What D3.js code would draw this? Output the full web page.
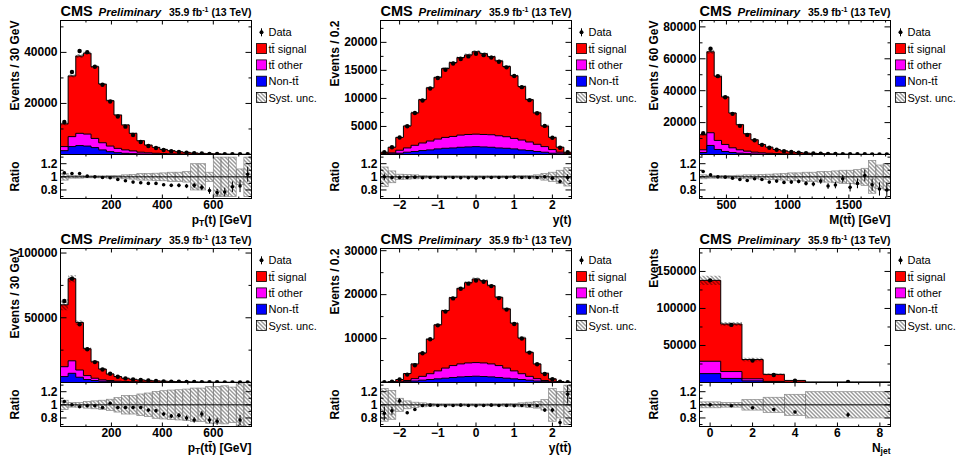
<!DOCTYPE html>
<html>
<head>
<meta charset="utf-8">
<script src="https://cdn.jsdelivr.net/npm/d3@7"></script>
<style>
  body { margin: 0; background: #fff; }
  svg { display: block; }
</style>
</head>
<body>
<div id="chart"></div>
<script>
// ---- data (events per bin, stacked components) ----
const ptT_edges = d3.range(0, 751, 30);
const ptT_sig = [8900, 23800, 30300, 31700, 28100, 23000, 17800, 13100, 9800, 6900, 4500, 3050, 2320, 1650, 1240, 910, 700, 500, 370, 270, 205, 148, 106, 82, 66];
const ptT_oth = [1600, 3900, 4800, 4700, 3600, 2800, 2200, 1700, 1340, 1070, 680, 490, 360, 260, 195, 140, 112, 72, 59, 44, 33, 23, 17, 13, 10];
const ptT_bkg = [1500, 3100, 3500, 3300, 2700, 1800, 1100, 700, 460, 330, 220, 160, 120, 90, 65, 50, 38, 28, 21, 16, 12, 9, 7, 5, 4];
const ptT_ratio = [1.06, 1.05, 1.05, 1.01, 1.0, 0.99, 0.985, 0.96, 0.94, 0.92, 0.91, 0.9, 0.9, 0.88, 0.87, 0.87, 0.86, 0.87, 0.84, 0.79, 0.76, 0.77, 0.85, 0.86, 1.04];
const ptT_unc = [0.05, 0.02, 0.02, 0.015, 0.015, 0.015, 0.02, 0.02, 0.03, 0.035, 0.05, 0.05, 0.055, 0.06, 0.07, 0.07, 0.08, 0.2, 0.2, 0.07, 0.3, 0.3, 0.3, 0.12, 0.3];

const yT_edges = d3.range(-25, 26, 2).map(d => d / 10);
const yT_sig = [300, 1010, 2290, 3930, 5800, 7740, 9500, 11020, 12300, 13180, 13830, 14190, 14710, 14420, 13940, 13360, 12530, 11190, 9550, 7560, 5620, 3690, 2170, 890, 300];
const yT_oth = [40, 170, 530, 760, 1110, 1350, 1580, 1750, 1940, 2050, 2170, 2220, 2230, 2220, 2230, 2170, 2060, 1870, 1760, 1530, 1290, 1000, 650, 290, 40];
const yT_bkg = [60, 120, 230, 410, 530, 700, 820, 1000, 1110, 1170, 1290, 1350, 1400, 1350, 1290, 1170, 1110, 1000, 820, 700, 530, 410, 230, 120, 60];
const yT_ratio = [1.0, 0.99, 0.99, 0.99, 0.995, 0.985, 0.99, 0.99, 0.985, 0.99, 0.985, 0.985, 0.98, 0.985, 0.99, 0.99, 0.99, 0.995, 0.99, 0.99, 0.99, 1.0, 0.98, 0.93, 0.99];
const yT_unc = [0.15, 0.09, 0.04, 0.035, 0.03, 0.02, 0.015, 0.015, 0.015, 0.015, 0.015, 0.015, 0.015, 0.015, 0.015, 0.015, 0.015, 0.015, 0.02, 0.02, 0.03, 0.05, 0.07, 0.1, 0.14];

const mtt_edges = d3.range(280, 1841, 60);
const mtt_sig = [9460, 50760, 40280, 29800, 21800, 15760, 10900, 7770, 5250, 3860, 2620, 1920, 1390, 1040, 780, 605, 460, 362, 288, 222, 172, 135, 107, 82, 66, 49];
const mtt_oth = [1680, 7970, 5670, 4410, 2940, 2100, 1575, 1090, 780, 560, 390, 285, 210, 160, 120, 95, 73, 57, 45, 35, 28, 22, 17, 13, 10, 8];
const mtt_bkg = [1260, 5670, 3150, 1890, 1260, 840, 525, 380, 270, 200, 140, 105, 80, 60, 45, 35, 27, 21, 17, 13, 10, 8, 6, 5, 4, 3];
const mtt_ratio = [1.08, 1.03, 1.0, 0.995, 0.98, 0.96, 0.945, 0.97, 0.96, 0.92, 0.935, 0.915, 0.92, 0.93, 0.9, 0.89, 0.935, 0.86, 0.875, 0.97, 0.84, 0.9, 1.02, 0.88, 0.815, 0.8];
const mtt_unc = [0.03, 0.02, 0.02, 0.02, 0.02, 0.025, 0.03, 0.03, 0.035, 0.04, 0.045, 0.05, 0.06, 0.06, 0.07, 0.07, 0.08, 0.08, 0.09, 0.1, 0.1, 0.11, 0.13, 0.25, 0.18, 0.2];

const ptTT_edges = d3.range(0, 751, 30);
const ptTT_sig = [47800, 63450, 36760, 20770, 12700, 8370, 5100, 3600, 2580, 1960, 1580, 1310, 1030, 830, 670, 555, 445, 355, 292, 237, 198, 158, 126, 102, 87];
const ptTT_oth = [7630, 9650, 5580, 3050, 1780, 1030, 800, 520, 380, 280, 220, 180, 140, 115, 95, 75, 59, 50, 41, 33, 27, 22, 18, 15, 12];
const ptTT_bkg = [4570, 7100, 4060, 2280, 1520, 1000, 700, 480, 340, 260, 200, 160, 130, 105, 85, 70, 56, 45, 37, 30, 25, 20, 16, 13, 11];
const ptTT_ratio = [1.05, 1.0, 0.97, 0.985, 0.985, 0.96, 1.025, 0.96, 0.96, 0.96, 0.96, 0.92, 0.91, 0.86, 0.83, 0.84, 0.8, 0.77, 0.86, 0.77, 0.75, 0.62, 0.6, 0.77, 0.62];
const ptTT_unc = [0.07, 0.035, 0.035, 0.05, 0.06, 0.07, 0.085, 0.11, 0.14, 0.14, 0.165, 0.18, 0.205, 0.215, 0.225, 0.23, 0.24, 0.255, 0.255, 0.28, 0.28, 0.29, 0.27, 0.32, 0.34];

const yTT_edges = d3.range(-25, 26, 2).map(d => d / 10);
const yTT_sig = [60, 170, 530, 1590, 3360, 5320, 7890, 10500, 13100, 15480, 17210, 18280, 19030, 18730, 17820, 15550, 13480, 10870, 8130, 5470, 3360, 1660, 680, 170, 40];
const yTT_oth = [10, 35, 75, 260, 530, 870, 1320, 1810, 2300, 2720, 2950, 3090, 3100, 3090, 2950, 2720, 2300, 1810, 1320, 870, 530, 260, 75, 35, 10];
const yTT_bkg = [10, 25, 75, 190, 340, 530, 680, 830, 980, 1130, 1280, 1360, 1430, 1360, 1280, 1130, 980, 830, 680, 530, 340, 190, 75, 25, 10];
const yTT_ratio = [0.87, 0.91, 1.06, 0.88, 0.93, 0.99, 0.995, 0.99, 0.985, 0.99, 0.995, 0.99, 0.985, 0.99, 0.995, 0.99, 0.99, 0.985, 0.99, 0.99, 0.985, 0.92, 0.92, 0.73, 1.16];
const yTT_unc = [0.25, 0.22, 0.1, 0.06, 0.04, 0.03, 0.02, 0.015, 0.015, 0.015, 0.015, 0.015, 0.015, 0.015, 0.015, 0.015, 0.02, 0.02, 0.03, 0.04, 0.05, 0.08, 0.25, 0.2, 0.3];

const njet_edges = [-0.5, 0.5, 1.5, 2.5, 3.5, 4.5, 8.5];
const njet_sig = [109300, 64200, 26000, 9500, 2400, 600];
const njet_oth = [16700, 9300, 2800, 800, 250, 60];
const njet_bkg = [12000, 5500, 2200, 700, 150, 40];
const njet_ratio = [1.0, 0.985, 0.955, 0.93, 0.89, 0.85];
const njet_unc = [0.045, 0.035, 0.08, 0.115, 0.16, 0.2];

const TT = "tt\u0304";
const legendLabels = ["Data", TT + " signal", TT + " other", "Non-" + TT, "Syst. unc."];
const colors = { sig: "#ff0000", oth: "#ff00ff", bkg: "#0000ff" };

const panels = [
  { edges: ptT_edges, sig: ptT_sig, oth: ptT_oth, bkg: ptT_bkg, ratio: ptT_ratio, unc: ptT_unc,
    ymax: 52500, yStep: 20000, xStep: 200, xMinor: 100, ytitle: "Events / 30 GeV",
    xtitle: [["p"], ["T", "sub"], ["(t) [GeV]"]] },
  { edges: yT_edges, sig: yT_sig, oth: yT_oth, bkg: yT_bkg, ratio: yT_ratio, unc: yT_unc,
    ymax: 23900, yStep: 5000, xStep: 1, xMinor: 0.5, ytitle: "Events / 0.2",
    xtitle: [["y(t)"]] },
  { edges: mtt_edges, sig: mtt_sig, oth: mtt_oth, bkg: mtt_bkg, ratio: mtt_ratio, unc: mtt_unc,
    ymax: 84000, yStep: 20000, xStep: 500, xMinor: 100, ytitle: "Events / 60 GeV",
    xtitle: [["M(" + TT + ") [GeV]"]] },
  { edges: ptTT_edges, sig: ptTT_sig, oth: ptTT_oth, bkg: ptTT_bkg, ratio: ptTT_ratio, unc: ptTT_unc,
    ymax: 103500, yStep: 50000, xStep: 200, xMinor: 100, ytitle: "Events / 30 GeV",
    xtitle: [["p"], ["T", "sub"], ["(" + TT + ") [GeV]"]] },
  { edges: yTT_edges, sig: yTT_sig, oth: yTT_oth, bkg: yTT_bkg, ratio: yTT_ratio, unc: yTT_unc,
    ymax: 30500, yStep: 10000, xStep: 1, xMinor: 0.5, ytitle: "Events / 0.2",
    xtitle: [["y(" + TT + ")"]] },
  { edges: njet_edges, sig: njet_sig, oth: njet_oth, bkg: njet_bkg, ratio: njet_ratio, unc: njet_unc,
    ymax: 181000, yStep: 50000, xStep: 2, xMinor: 1, ytitle: "Events",
    xtitle: [["N"], ["jet", "sub"]] }
];

const FONT = "'Liberation Sans', Arial, Helvetica, sans-serif";
const width = 957, height = 456;
const colLeft = [60.5, 380.5, 699.5];
const w = 191, hTop = 134, hRat = 44;
const rmin = 0.67, rmax = 1.34;

const svg = d3.select("#chart").append("svg")
  .attr("width", width)
  .attr("height", height)
  .attr("font-family", FONT);

svg.append("defs").append("pattern")
  .attr("id", "hatch")
  .attr("patternUnits", "userSpaceOnUse")
  .attr("width", 4).attr("height", 4)
  .append("path")
  .attr("d", "M-1,-1L5,5M3,-1L5,1M-1,3L1,5")
  .attr("stroke", "#000")
  .attr("stroke-width", 0.8);

function tickVals(dom, step) {
  const lo = Math.ceil(dom[0] / step - 1e-9), hi = Math.floor(dom[1] / step + 1e-9);
  return d3.range(lo, hi + 1).map(k => +(k * step).toFixed(6))
    .filter(v => v > dom[0] + 1e-9 && v < dom[1] - 1e-9);
}

function drawPanel(p, idx) {
  const col = idx % 3, row = Math.floor(idx / 3);
  const g = svg.append("g").attr("transform", `translate(${colLeft[col]},${20.5 + row * 228})`);
  const nb = p.sig.length;
  const xdom = [p.edges[0], p.edges[nb]];

  const x = d3.scaleLinear().domain(xdom).range([0, w]);
  const y = d3.scaleLinear().domain([0, p.ymax]).range([hTop, 0]);
  const yr = d3.scaleLinear().domain([rmin, rmax]).range([hTop + hRat, hTop]);

  const bins = p.sig.map((s, i) => {
    const bkg = p.bkg[i], oth = bkg + p.oth[i], tot = oth + s;
    const data = tot * p.ratio[i];
    return { x0: p.edges[i], x1: p.edges[i + 1], xc: (p.edges[i] + p.edges[i + 1]) / 2,
      bkg, oth, tot, data, ratio: p.ratio[i], unc: p.unc[i], err: Math.sqrt(data) };
  });

  // clip paths
  const cid = "clip" + idx;
  const defs = g.append("defs");
  defs.append("clipPath").attr("id", cid + "a").append("rect")
    .attr("width", w).attr("height", hTop);
  defs.append("clipPath").attr("id", cid + "b").append("rect")
    .attr("y", hTop).attr("width", w).attr("height", hRat);

  // ---- upper: stacked histogram ----
  const up = g.append("g").attr("clip-path", `url(#${cid}a)`);
  const area = d3.area().curve(d3.curveStepAfter)
    .x(d => x(d[0])).y0(y(0)).y1(d => y(d[1]));
  const pts = key => bins.map(b => [b.x0, b[key]]).concat([[bins[nb - 1].x1, bins[nb - 1][key]]]);

  [["tot", colors.sig], ["oth", colors.oth], ["bkg", colors.bkg]].forEach(([k, c]) => {
    up.append("path")
      .attr("d", area(pts(k)))
      .attr("fill", c)
      .attr("stroke", "#000")
      .attr("stroke-width", 1);
  });

  up.append("g").selectAll("rect")
    .data(bins)
    .join("rect")
    .attr("x", d => x(d.x0))
    .attr("width", d => x(d.x1) - x(d.x0))
    .attr("y", d => y(d.tot * (1 + d.unc)))
    .attr("height", d => y(d.tot * (1 - d.unc)) - y(d.tot * (1 + d.unc)))
    .attr("fill", "url(#hatch)");

  const dp = up.append("g").selectAll("g").data(bins).join("g");
  dp.append("line")
    .attr("x1", d => x(d.xc)).attr("x2", d => x(d.xc))
    .attr("y1", d => y(d.data + d.err)).attr("y2", d => y(d.data - d.err))
    .attr("stroke", "#000");
  dp.append("circle")
    .attr("cx", d => x(d.xc)).attr("cy", d => y(d.data))
    .attr("r", 2.2).attr("fill", "#000");

  // ---- ratio panel ----
  const lo = g.append("g").attr("clip-path", `url(#${cid}b)`);
  lo.append("g").selectAll("rect")
    .data(bins)
    .join("rect")
    .attr("x", d => x(d.x0))
    .attr("width", d => x(d.x1) - x(d.x0))
    .attr("y", d => yr(1 + d.unc))
    .attr("height", d => yr(1 - d.unc) - yr(1 + d.unc))
    .attr("fill", "url(#hatch)")
    .attr("stroke", "#888")
    .attr("stroke-width", 0.7);
  lo.append("line")
    .attr("x1", 0).attr("x2", w)
    .attr("y1", yr(1)).attr("y2", yr(1))
    .attr("stroke", "#000");
  const rp = lo.append("g").selectAll("g")
    .data(bins.filter(d => d.ratio > rmin && d.ratio < rmax))
    .join("g");
  rp.append("line")
    .attr("x1", d => x(d.xc)).attr("x2", d => x(d.xc))
    .attr("y1", d => yr(d.ratio + d.err / d.tot)).attr("y2", d => yr(d.ratio - d.err / d.tot))
    .attr("stroke", "#000");
  rp.append("circle")
    .attr("cx", d => x(d.xc)).attr("cy", d => yr(d.ratio))
    .attr("r", 1.8).attr("fill", "#000");

  // ---- axes (ROOT style: ticks inside, on all four sides) ----
  const none = () => "";
  function axis(gen, vals, size, fmt, tx, ty, pad) {
    const a = g.append("g").attr("transform", `translate(${tx},${ty})`)
      .call(gen.tickValues(vals).tickSize(size).tickPadding(pad || 3).tickFormat(fmt || none).offset(0));
    a.select(".domain").remove();
    a.selectAll("text")
      .attr("font-family", FONT)
      .attr("font-size", 12)
      .attr("font-weight", "bold")
      .attr("fill", "#000");
    return a;
  }
  const yMaj = tickVals([0, p.ymax], p.yStep);
  const yMin = tickVals([0, p.ymax], p.yStep / 2).filter(v => !yMaj.includes(v));
  axis(d3.axisLeft(y), yMaj, -6, d3.format("d"), 0, 0);
  axis(d3.axisLeft(y), yMin, -3, null, 0, 0);
  axis(d3.axisRight(y), yMaj, -6, null, w, 0);
  axis(d3.axisRight(y), yMin, -3, null, w, 0);

  const xMaj = tickVals(xdom, p.xStep);
  const xMin = tickVals(xdom, p.xMinor).filter(v => !xMaj.includes(v));
  axis(d3.axisTop(x), xMaj, -4, null, 0, 0);
  axis(d3.axisTop(x), xMin, -2, null, 0, 0);

  const rMaj = [0.8, 1, 1.2], rMin = [0.7, 0.9, 1.1, 1.3];
  axis(d3.axisLeft(yr), rMaj, -6, d => d === 1 ? "1" : d3.format(".1f")(d), 0, 0);
  axis(d3.axisLeft(yr), rMin, -3, null, 0, 0);
  axis(d3.axisRight(yr), rMaj, -6, null, w, 0);
  axis(d3.axisRight(yr), rMin, -3, null, w, 0);
  axis(d3.axisTop(x), xMaj, -4, null, 0, hTop);
  axis(d3.axisTop(x), xMin, -2, null, 0, hTop);
  axis(d3.axisBottom(x), xMaj, -4, d3.format("d"), 0, hTop + hRat, 2);
  axis(d3.axisBottom(x), xMin, -2, null, 0, hTop + hRat);

  // frames
  g.append("rect").attr("width", w).attr("height", hTop)
    .attr("fill", "none").attr("stroke", "#000");
  g.append("rect").attr("y", hTop).attr("width", w).attr("height", hRat)
    .attr("fill", "none").attr("stroke", "#000");

  // ---- titles ----
  g.append("text")
    .attr("transform", "translate(-41.5,0) rotate(-90)")
    .attr("text-anchor", "end")
    .attr("font-size", 12).attr("font-weight", "bold")
    .text(p.ytitle);
  g.append("text")
    .attr("transform", `translate(-41.5,${hTop + hRat / 2}) rotate(-90)`)
    .attr("text-anchor", "middle")
    .attr("font-size", 12).attr("font-weight", "bold")
    .text("Ratio");

  const xt = g.append("text")
    .attr("x", w).attr("y", 203)
    .attr("text-anchor", "end")
    .attr("font-size", 12).attr("font-weight", "bold");
  let shift = 0;
  p.xtitle.forEach(([t, mode]) => {
    const dy = mode === "sub" ? 2.5 : -shift;
    shift = mode === "sub" ? 2.5 : 0;
    xt.append("tspan").attr("dy", dy)
      .attr("font-size", mode === "sub" ? 8.5 : 12)
      .text(t);
  });

  // header
  g.append("text").attr("x", 0).attr("y", -4.5)
    .attr("font-size", 14.5).attr("font-weight", "bold").text("CMS");
  g.append("text").attr("x", 38).attr("y", -4.5)
    .attr("font-size", 11.5).attr("font-weight", "bold").attr("font-style", "italic")
    .text("Preliminary");
  const lumi = g.append("text").attr("x", w).attr("y", -4.5)
    .attr("text-anchor", "end")
    .attr("font-size", 10.5).attr("font-weight", "bold");
  lumi.append("tspan").text("35.9 fb");
  lumi.append("tspan").attr("dy", -4).attr("font-size", 7).text("-1");
  lumi.append("tspan").attr("dy", 4).text(" (13 TeV)");

  // legend
  const leg = g.append("g").attr("transform", `translate(${w + 5},0)`);
  const rowY = i => 11.8 + i * 16.3;
  leg.append("line").attr("x1", 5).attr("x2", 5)
    .attr("y1", rowY(0) - 4).attr("y2", rowY(0) + 4).attr("stroke", "#000");
  leg.append("circle").attr("cx", 5).attr("cy", rowY(0)).attr("r", 2).attr("fill", "#000");
  [colors.sig, colors.oth, colors.bkg, "url(#hatch)"].forEach((c, i) => {
    leg.append("rect")
      .attr("x", 0).attr("y", rowY(i + 1) - 5)
      .attr("width", 10).attr("height", 10)
      .attr("fill", c).attr("stroke", "#000").attr("stroke-width", 0.8);
  });
  leg.selectAll("text.lab")
    .data(legendLabels)
    .join("text")
    .attr("class", "lab")
    .attr("x", 12).attr("y", (d, i) => rowY(i) + 4)
    .attr("font-size", 11)
    .text(d => d);
}

panels.forEach(drawPanel);
</script>
</body>
</html>
